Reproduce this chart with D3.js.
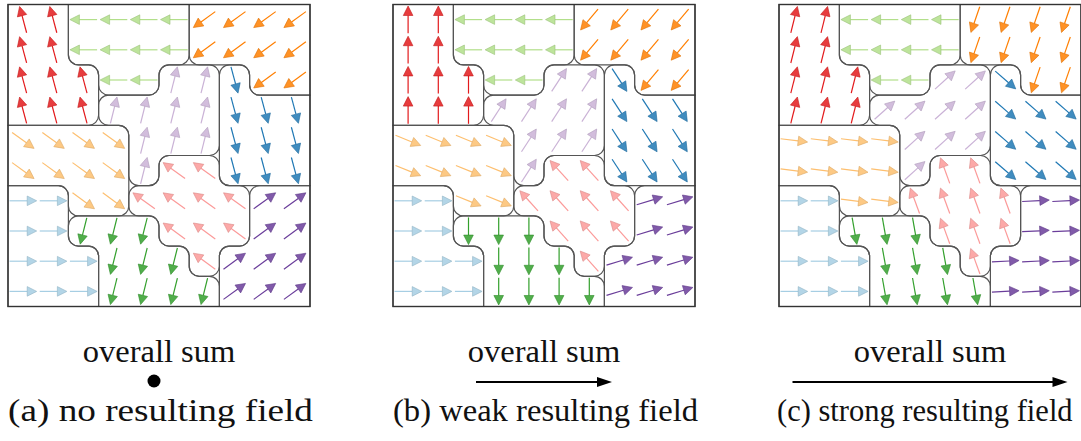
<!DOCTYPE html>
<html>
<head>
<meta charset="utf-8">
<script src="https://cdn.jsdelivr.net/npm/d3@7"></script>
<style>
  html, body { margin: 0; padding: 0; background: #fff; }
  svg { display: block; }
  text { font-family: "Liberation Serif", "DejaVu Serif", serif; fill: #111; }
</style>
</head>
<body>
<div id="chart"></div>
<script>
// region keys and colours (ColorBrewer "Paired")
const regionKeys = ['R', 'G', 'O', 'B', 'L', 'S', 'C', 'V', 'P', 'U'];
const regionColors = ['#e31a1c', '#b2df8a', '#ff7f00', '#1f78b4', '#cab2d6',
                      '#fdbf6f', '#a6cee3', '#33a02c', '#fb9a99', '#6a3d9a'];

// 10x10 cell layout, same for all three panels
const cellGrid = [
  'RRGGGGOOOO',
  'RRGGGGOOOO',
  'RRRGGLLBOO',
  'RRRLLLLBBB',
  'SSSSLLLBBB',
  'SSSSLPPBBB',
  'CCSSPPPPUU',
  'CCVVVPPPUU',
  'CCCVVVPUUU',
  'CCCVVVVUUU'
];

// arrow direction (degrees, screen coords) per region, one list per panel
const anglesA = [-105, 180, 144, 75, -76, 36, 0, 104, -144, -36];
const anglesB = [-90, 180, 130, 57, -57, 22, 0, 90, -132, -17];
const anglesC = [-76, 180, 109, 41, -42, 7, 0, 80, -110, -3];

const panelAngles = [anglesA, anglesB, anglesC];
const panelLeft = [8, 393, 779];
const sumLengths = [0, 136, 275];
const captions = ['(a) no resulting field', '(b) weak resulting field', '(c) strong resulting field'];

const width = 1081;
const height = 441;
const size = 302;
const top0 = 4.5;
const n = 10;
const radius = 10;

const svg = d3.select('#chart')
  .append('svg')
  .attr('width', width)
  .attr('height', height);

// trace outline of a set of grid cells, returns list of grid vertices
function traceOutline(cells) {
  const edges = new Map();
  cells.forEach(([r, c]) => {
    const pts = [[c, r], [c + 1, r], [c + 1, r + 1], [c, r + 1]];
    for (let i = 0; i < 4; i++) {
      const a = pts[i], b = pts[(i + 1) % 4];
      const rev = b.join() + '>' + a.join();
      if (edges.has(rev)) edges.delete(rev);
      else edges.set(a.join() + '>' + b.join(), [a, b]);
    }
  });
  const next = new Map();
  edges.forEach(([a, b]) => next.set(a.join(), b));
  const startKey = next.keys().next().value;
  let pts = [];
  let key = startKey;
  do {
    const p = key.split(',').map(Number);
    pts.push(p);
    key = next.get(key).join();
  } while (key !== startKey);
  // drop collinear points
  return pts.filter((p, i) => {
    const a = pts[(i - 1 + pts.length) % pts.length];
    const b = pts[(i + 1) % pts.length];
    return (p[0] - a[0]) * (b[1] - p[1]) - (p[1] - a[1]) * (b[0] - p[0]) !== 0;
  });
}

function roundedPath(pts, x, y) {
  const m = pts.length;
  let d = '';
  for (let i = 0; i < m; i++) {
    const p = pts[(i - 1 + m) % m], v = pts[i], q = pts[(i + 1) % m];
    const vx = x(v[0]), vy = y(v[1]);
    const onFrame = v[0] === 0 || v[0] === n || v[1] === 0 || v[1] === n;
    if (onFrame) {
      d += (i === 0 ? 'M' : 'L') + vx + ',' + vy;
      continue;
    }
    const d1 = [Math.sign(v[0] - p[0]), Math.sign(v[1] - p[1])];
    const d2 = [Math.sign(q[0] - v[0]), Math.sign(q[1] - v[1])];
    const cross = d1[0] * d2[1] - d1[1] * d2[0];
    const ax = vx - d1[0] * radius, ay = vy - d1[1] * radius;
    const bx = vx + d2[0] * radius, by = vy + d2[1] * radius;
    d += (i === 0 ? 'M' : 'L') + ax + ',' + ay;
    d += 'A' + radius + ',' + radius + ' 0 0 ' + (cross > 0 ? 1 : 0) + ' ' + bx + ',' + by;
  }
  return d + 'Z';
}

const cellList = [];
cellGrid.forEach((row, r) => row.split('').forEach((k, c) => cellList.push({ r, c, k })));

panelLeft.forEach((left, pi) => {
  const x = d3.scaleLinear().domain([0, n]).range([left, left + size]);
  const y = d3.scaleLinear().domain([0, n]).range([top0, top0 + size]);
  const cs = size / n;
  const g = svg.append('g').attr('class', 'panel');

  // region outlines
  regionKeys.forEach((k) => {
    const cells = cellList.filter(d => d.k === k).map(d => [d.r, d.c]);
    g.append('path')
      .attr('d', roundedPath(traceOutline(cells), x, y))
      .attr('fill', 'none')
      .attr('stroke', '#555')
      .attr('stroke-width', 1.2);
  });

  g.append('rect')
    .attr('x', x(0)).attr('y', y(0))
    .attr('width', size).attr('height', size)
    .attr('fill', 'none')
    .attr('stroke', '#333')
    .attr('stroke-width', 1.4);

  // arrows
  const len = cs * 0.9, hl = 9.5, hw = 4.8;
  g.append('g').attr('class', 'arrows')
    .selectAll('g')
    .data(cellList)
    .enter().append('g')
    .each(function (d) {
      const ri = regionKeys.indexOf(d.k);
      const a = panelAngles[pi][ri] * Math.PI / 180;
      const ux = Math.cos(a), uy = Math.sin(a);
      const cx = x(d.c + 0.5), cy = y(d.r + 0.5);
      const tx = cx - ux * len / 2, ty = cy - uy * len / 2;
      const hx = cx + ux * len / 2, hy = cy + uy * len / 2;
      const bx = hx - ux * hl, by = hy - uy * hl;
      const col = regionColors[ri];
      const sel = d3.select(this);
      sel.append('line')
        .attr('x1', tx).attr('y1', ty)
        .attr('x2', bx).attr('y2', by)
        .attr('stroke', col)
        .attr('stroke-width', 1.2);
      sel.append('path')
        .attr('d', 'M' + hx + ',' + hy + 'L' + (bx - uy * hw) + ',' + (by + ux * hw) +
          'L' + (bx + uy * hw) + ',' + (by - ux * hw) + 'Z')
        .attr('fill', col)
        .attr('fill-opacity', 0.85)
        .attr('stroke', d3.color(col).darker(0.4))
        .attr('stroke-width', 0.6);
    });

  // overall sum label + vector
  const mid = left + size / 2;
  svg.append('text')
    .attr('x', mid).attr('y', 362)
    .attr('text-anchor', 'middle')
    .attr('font-size', 32.5)
    .text('overall sum');

  const L = sumLengths[pi];
  if (L === 0) {
    svg.append('circle')
      .attr('cx', mid - 5).attr('cy', 381)
      .attr('r', 6.5)
      .attr('fill', '#000');
  } else {
    svg.append('line')
      .attr('x1', mid - L / 2).attr('y1', 382)
      .attr('x2', mid + L / 2 - 12).attr('y2', 382)
      .attr('stroke', '#000')
      .attr('stroke-width', 2);
    svg.append('path')
      .attr('d', 'M' + (mid + L / 2) + ',382L' + (mid + L / 2 - 15) + ',377L' + (mid + L / 2 - 15) + ',387Z')
      .attr('fill', '#000');
  }

  // captions: first two span the panel width, last one fits before the page edge
  const cap = svg.append('text')
    .attr('y', 421)
    .text(captions[pi]);
  if (pi === 2) {
    cap.attr('x', left - 2).attr('font-size', 30.5);
  } else {
    cap.attr('x', left)
      .attr('font-size', 32.5)
      .attr('textLength', 305)
      .attr('lengthAdjust', 'spacingAndGlyphs');
  }
});
</script>
</body>
</html>
